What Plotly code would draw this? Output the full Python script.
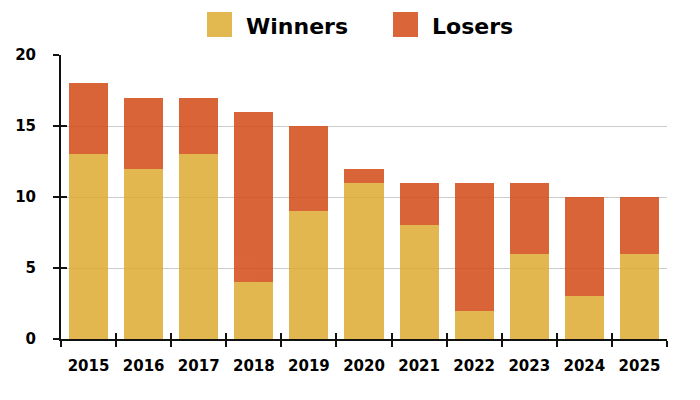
import plotly.graph_objects as go

years = ["2015", "2016", "2017", "2018", "2019", "2020", "2021", "2022", "2023", "2024", "2025"]
winners = [13, 12, 13, 4, 9, 11, 8, 2, 6, 3, 6]
losers = [5, 5, 4, 12, 6, 1, 3, 9, 5, 7, 4]
y_ticks = [0, 5, 10, 15, 20]
series_names = ["Winners", "Losers"]

WIN_COL = "rgb(221,171,50)"
LOS_COL = "rgb(211,74,22)"
FONT = "DejaVu Sans"

fig = go.Figure()
fig.add_trace(go.Bar(x=years, y=winners, name=series_names[0],
                     marker=dict(color=WIN_COL, line=dict(width=0)), opacity=0.85))
fig.add_trace(go.Bar(x=years, y=losers, name=series_names[1],
                     marker=dict(color=LOS_COL, line=dict(width=0)), opacity=0.85))
# invisible helper trace for the overlay axes (inner half of crossing ticks)
fig.add_trace(go.Scatter(x=years, y=winners, mode="markers", marker=dict(opacity=0),
                         xaxis="x2", yaxis="y2", hoverinfo="skip", showlegend=False))

x_range = [-0.5, len(years) - 0.5]

fig.update_layout(
    width=700, height=400,
    margin=dict(l=61, r=33, t=55, b=61),
    barmode="stack", bargap=0.29,
    plot_bgcolor="white", paper_bgcolor="white",
    showlegend=False,
    font=dict(family=FONT, color="black"),
    xaxis=dict(
        type="category", range=x_range, tickson="boundaries", ticks="outside", ticklen=6, tickwidth=2,
        tickcolor="#111", showline=True, linecolor="#111", linewidth=2,
        showgrid=False, tickfont=dict(family=FONT, size=15, color="black", weight="bold"),
        ticklabelstandoff=12, layer="above traces",
    ),
    yaxis=dict(
        range=[0, 20], tickvals=y_ticks, ticks="outside", ticklen=6, tickwidth=2,
        tickcolor="#111", showline=True, linecolor="#111", linewidth=2,
        showgrid=True, gridcolor="#cccccc", gridwidth=1, zeroline=False,
        tickfont=dict(family=FONT, size=15, color="black", weight="bold"),
        ticklabelstandoff=14, layer="above traces",
    ),
    xaxis2=dict(
        type="category", overlaying="x", matches="x", tickson="boundaries", ticks="inside",
        ticklen=6, tickwidth=2, tickcolor="#111", showticklabels=False, showgrid=False,
        showline=False, layer="above traces",
    ),
    yaxis2=dict(
        overlaying="y", matches="y", tickvals=y_ticks, ticks="inside",
        ticklen=6, tickwidth=2, tickcolor="#111", showticklabels=False, showgrid=False,
        showline=False, zeroline=False, layer="above traces",
    ),
)

# custom legend (large squares + bold labels)
leg = [
    (series_names[0], WIN_COL, 0.2409, 0.2822, 0.3020),
    (series_names[1], LOS_COL, 0.5479, 0.5891, 0.6089),
]
for name, col, x0, x1, xt in leg:
    fig.add_shape(type="rect", xref="paper", yref="paper", x0=x0, x1=x1, y0=1.0634, y1=1.1514,
                  fillcolor=col, opacity=0.85, line=dict(width=0))
    fig.add_annotation(xref="paper", yref="paper", x=xt, y=1.100, xanchor="left", yanchor="middle",
                       text=name, showarrow=False,
                       font=dict(family=FONT, size=22, color="black", weight="bold"))

fig.write_html("out.html", config={"displayModeBar": False},
               post_script="document.body.style.margin='0px';")
